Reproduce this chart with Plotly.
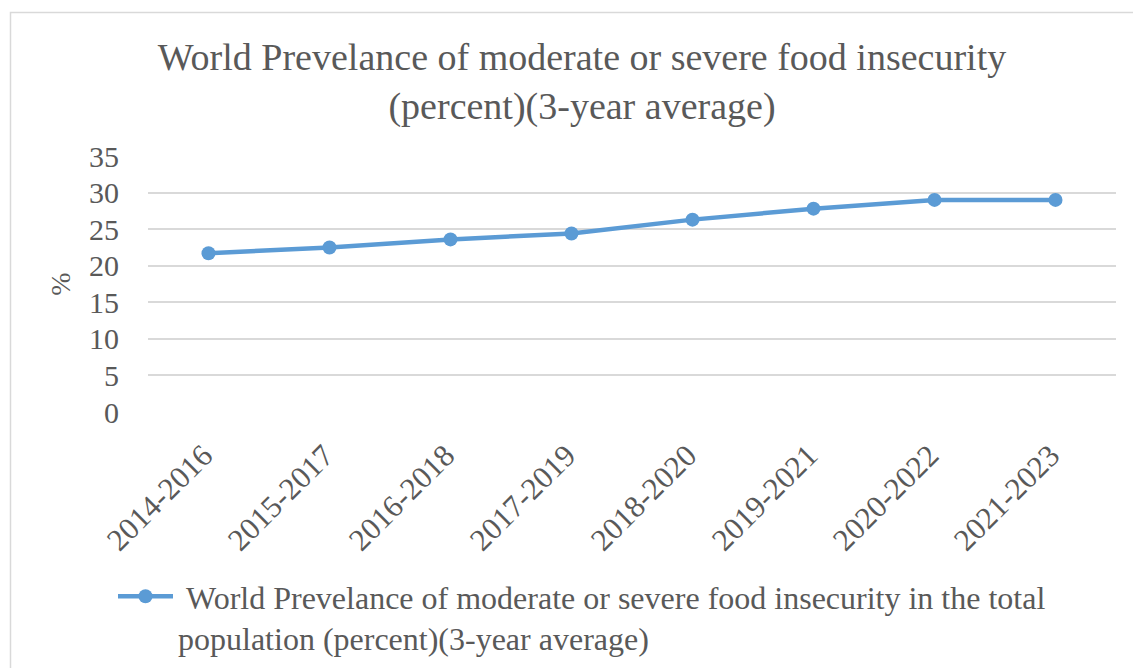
import plotly.graph_objects as go

categories = ["2014-2016", "2015-2017", "2016-2018", "2017-2019",
              "2018-2020", "2019-2021", "2020-2022", "2021-2023"]
values = [21.7, 22.5, 23.6, 24.4, 26.3, 27.8, 29.0, 29.0]
y_ticks = [0, 5, 10, 15, 20, 25, 30, 35]

series_name = ("\u00a0World Prevelance of moderate or severe food insecurity in the total<br>"
               "population (percent)(3-year average)")
title_text = "World Prevelance of moderate or severe food insecurity<br>(percent)(3-year average)"

FONT = "Liberation Serif"
GREY = "#595959"
BLUE = "#5B9BD5"

W, H = 1133, 668
ML, MR, MT, MB = 148, 17, 156, 256
PW = W - ML - MR
PH = H - MT - MB

fig = go.Figure()
fig.add_trace(go.Scatter(
    x=categories, y=values, mode="lines+markers", name=series_name,
    line=dict(color=BLUE, width=4.5),
    marker=dict(color=BLUE, size=14),
))

def px_x(p):
    return (p - ML) / PW

def px_y(p):
    return (H - MB - p) / PH

fig.update_layout(
    width=W, height=H,
    margin=dict(l=ML, r=MR, t=MT, b=MB, pad=0, autoexpand=False),
    paper_bgcolor="white", plot_bgcolor="white",
    font=dict(family=FONT, color=GREY),
    title=dict(text=title_text, font=dict(size=38, color=GREY, family=FONT),
               x=582 / W, xanchor="center", xref="container",
               y=1 - 70 / H, yanchor="top", yref="container"),
    xaxis=dict(type="category", range=[-0.5, 7.5], tickangle=-45,
               showgrid=False, showline=False, ticks="", zeroline=False,
               automargin=False, ticklabelstandoff=18, ticklabelshift=-5,
               tickfont=dict(size=31, color=GREY, family=FONT)),
    yaxis=dict(range=[0, 35], tickvals=y_ticks, showgrid=True, gridcolor="#D9D9D9",
               gridwidth=1.5, zeroline=False, showline=False, ticks="",
               automargin=False, ticklabelstandoff=28,
               tickfont=dict(size=30, color=GREY, family=FONT),
               title=dict(text="%", font=dict(size=28, color=GREY, family=FONT),
                          standoff=10)),
    showlegend=True,
    legend=dict(orientation="h", x=113 / W, xanchor="left", xref="container",
                y=1 - 569 / H, yanchor="top", yref="container", valign="top",
                font=dict(size=32, color=GREY, family=FONT),
                itemwidth=55, bgcolor="rgba(0,0,0,0)"),
    shapes=[dict(type="rect", xref="paper", yref="paper",
                 x0=px_x(10.5), x1=px_x(W + 20), y0=px_y(H + 20), y1=px_y(12.5),
                 line=dict(color="#D9D9D9", width=1.5), fillcolor="rgba(0,0,0,0)",
                 layer="below")],
)

fig.write_html("out.html")
